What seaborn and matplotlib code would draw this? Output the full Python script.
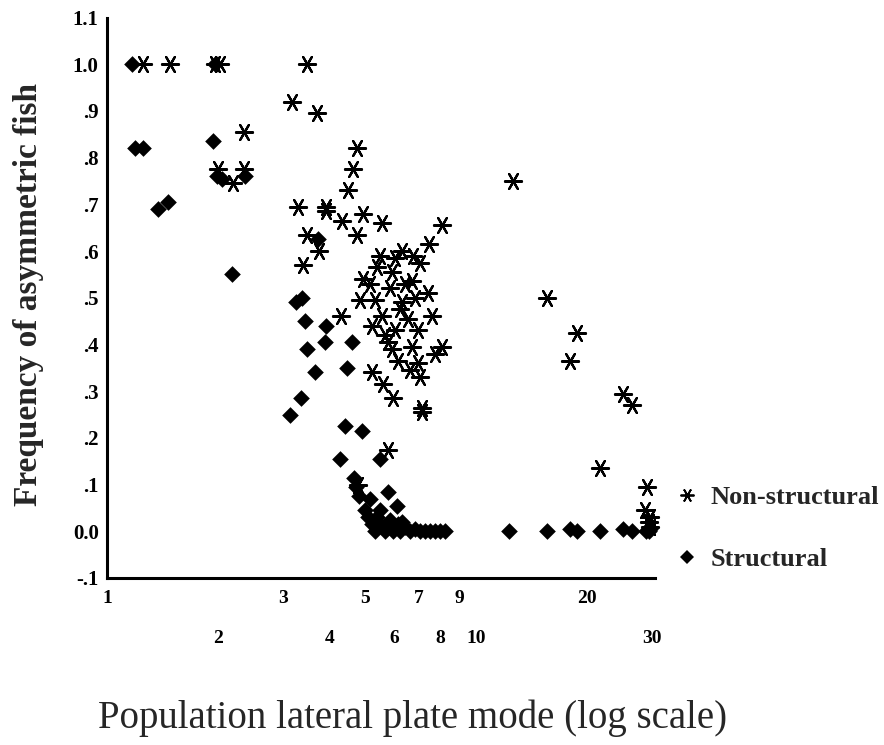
import matplotlib
matplotlib.use("Agg")
import matplotlib.pyplot as plt
import seaborn as sns
import pandas as pd
from matplotlib.lines import Line2D

# ---------------- data ----------------
nonstruct_x = [1.25, 1.48, 1.96, 2.02, 3.48, 3.17, 3.71, 2.35, 2.20, 2.00, 2.35,
               4.76, 4.64, 4.50, 3.29, 3.91, 3.91, 4.93, 4.32, 5.56, 4.76, 8.10,
               7.43, 3.48, 3.75, 3.40,
               5.50, 6.30, 6.73, 5.39, 7.05, 5.93, 6.71, 4.93, 7.41, 5.32, 6.30,
               4.85, 7.60, 5.56, 6.54, 5.22, 6.03, 5.76, 6.71, 8.10, 6.13, 6.96,
               7.74, 7.05, 5.22, 5.58, 5.96, 7.14, 7.14, 5.76, 4.31, 4.80,
               5.85, 6.22, 5.67, 6.42, 6.03, 6.83, 6.96, 5.16, 5.92, 6.62,
               12.6, 15.6, 18.8, 17.9, 25.0, 26.5, 21.7, 29.0, 28.7, 29.6, 29.6, 29.3]
nonstruct_y = [1.00, 1.00, 1.00, 1.00, 1.00, 0.92, 0.895, 0.855, 0.745, 0.775, 0.775,
               0.82, 0.775, 0.73, 0.695, 0.695, 0.685, 0.68, 0.665, 0.66, 0.635, 0.655,
               0.615, 0.635, 0.60, 0.57,
               0.59, 0.60, 0.59, 0.565, 0.575, 0.555, 0.535, 0.54, 0.51, 0.495, 0.49,
               0.495, 0.46, 0.46, 0.455, 0.44, 0.43, 0.405, 0.395, 0.395, 0.365, 0.36,
               0.38, 0.33, 0.34, 0.315, 0.285, 0.255, 0.265, 0.175, 0.46, 0.10,
               0.52, 0.475, 0.42, 0.53, 0.585, 0.50, 0.43, 0.53, 0.39, 0.345,
               0.75, 0.50, 0.425, 0.365, 0.295, 0.27, 0.135, 0.095, 0.045, 0.03, 0.01, 0.02]

struct_x = [1.17, 1.19, 1.25, 1.375, 1.46, 1.94, 1.96, 1.99, 2.05, 2.37, 2.18,
            3.73, 3.25, 3.37, 3.44, 3.91, 3.48, 3.90, 4.61, 3.66, 4.47, 3.13, 3.36,
            4.42, 4.91, 4.28, 5.50, 4.67, 4.73, 4.82, 5.76, 6.11,
            5.00, 5.10, 5.22, 5.32, 5.40, 5.56, 5.67, 5.85, 5.96, 6.13, 6.22, 6.42,
            6.62, 6.83, 7.05, 7.27, 7.50, 7.74, 7.99, 8.24, 5.16, 5.50, 6.30,
            12.3, 15.6, 18.0, 18.8, 21.7, 25.0, 26.5, 29.3, 29.6, 28.9]
struct_y = [1.00, 0.82, 0.82, 0.69, 0.705, 0.835, 1.00, 0.76, 0.755, 0.76, 0.55,
            0.625, 0.49, 0.50, 0.45, 0.44, 0.39, 0.405, 0.405, 0.34, 0.35, 0.25, 0.285,
            0.225, 0.215, 0.155, 0.155, 0.115, 0.095, 0.075, 0.085, 0.055,
            0.045, 0.03, 0.015, 0.0, 0.03, 0.01, 0.0, 0.025, 0.0, 0.015, 0.0, 0.01,
            0.0, 0.005, 0.0, 0.0, 0.0, 0.0, 0.0, 0.0, 0.07, 0.045, 0.02,
            0.0, 0.0, 0.005, 0.0, 0.0, 0.005, 0.0, 0.0, 0.005, 0.0]

x_major_ticks = [1, 3, 5, 7, 9, 20]
x_minor_ticks = [2, 4, 6, 8, 10, 30]
y_ticks = [-0.1, 0.0, 0.1, 0.2, 0.3, 0.4, 0.5, 0.6, 0.7, 0.8, 0.9, 1.0, 1.1]
y_tick_labels = ["-.1", "0.0", ".1", ".2", ".3", ".4", ".5", ".6", ".7", ".8", ".9", "1.0", "1.1"]
legend_labels = ["Non-structural", "Structural"]

# ---------------- plotting ----------------
sns.set_style("white")
plt.rcParams["font.family"] = ["Liberation Serif", "DejaVu Serif"]

fig = plt.figure(figsize=(8.84, 7.45), dpi=100)
ax = fig.add_axes([0.1210, 0.2242, 0.6199, 0.7522])

star = (6, 2, 90)
df_ns = pd.DataFrame({"x": nonstruct_x, "y": nonstruct_y})
df_s = pd.DataFrame({"x": struct_x, "y": struct_y})

sns.scatterplot(data=df_s, x="x", y="y", ax=ax, marker="D", s=72,
                color="black", linewidth=0, clip_on=False, zorder=3)
sns.scatterplot(data=df_ns, x="x", y="y", ax=ax, marker=star, s=150,
                color="black", linewidth=1.6, clip_on=False, zorder=4)

ax.set_xscale("log")
ax.set_xlim(1, 30.5)
ax.set_ylim(-0.1, 1.1)

ax.set_xticks(x_major_ticks)
ax.set_xticklabels([str(v) for v in x_major_ticks])
ax.set_xticks(x_minor_ticks, minor=True)
ax.set_xticklabels([str(v) for v in x_minor_ticks], minor=True)
ax.set_yticks(y_ticks)
ax.set_yticklabels(y_tick_labels)

for lab in ax.get_xticklabels(which="both"):
    lab.set_fontweight("bold")
    lab.set_fontsize(14)
for lab in ax.get_yticklabels():
    lab.set_fontweight("bold")
    lab.set_fontsize(15)

ax.tick_params(axis="x", which="major", direction="inout", length=5, width=3.5,
               pad=6, color="black", labelcolor="black")
ax.tick_params(axis="x", which="minor", direction="inout", length=5, width=3.5,
               pad=35, color="black", labelcolor="black")
ax.tick_params(axis="y", direction="inout", length=6, width=3.5, pad=3,
               color="black", labelcolor="black")

for side in ["top", "right"]:
    ax.spines[side].set_visible(False)
for side in ["left", "bottom"]:
    ax.spines[side].set_color("black")
    ax.spines[side].set_linewidth(2.2)

ax.set_ylabel("Frequency of asymmetric fish", fontsize=24, fontweight="bold")
ax.yaxis.set_label_coords(-0.144, 0.505)
ax.yaxis.label.set_va("center")
ax.set_xlabel("Population lateral plate mode (log scale)", fontsize=28)
ax.xaxis.set_label_coords(0.557, -0.25)
ax.xaxis.label.set_va("center")

handles = [Line2D([], [], marker=star, ls="", color="black", ms=10, mew=1.3),
           Line2D([], [], marker="D", ls="", color="black", ms=7, mew=0)]
ax.legend(handles, legend_labels, loc="center left",
          bbox_to_anchor=(0.762, 0.291), bbox_transform=fig.transFigure,
          frameon=False, labelspacing=1.45, handlelength=1.0, handletextpad=0.4,
          borderpad=0, borderaxespad=0,
          prop=dict(family="Liberation Serif", weight="bold", size=19))

fig.savefig("out.png", dpi=100, facecolor="white")
